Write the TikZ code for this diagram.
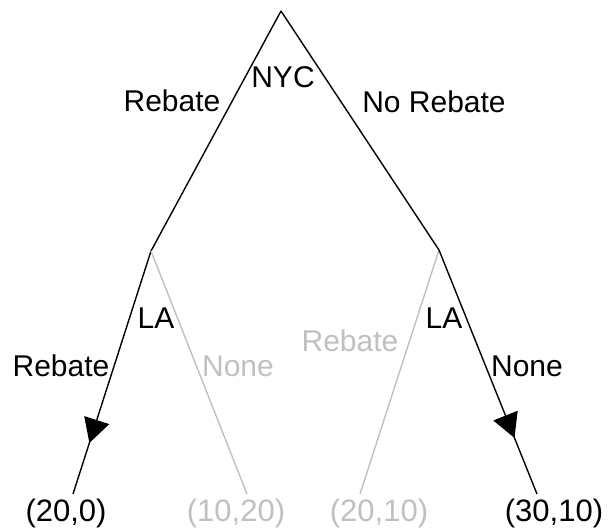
\documentclass[tikz,border=0pt]{standalone}
\usepackage{fontspec}
\setmainfont{Liberation Sans}
\usetikzlibrary{arrows.meta,decorations.markings}
\definecolor{lightgr}{RGB}{192,192,192}
\begin{document}
\begin{tikzpicture}[x=1pt,y=-1pt,
  branch/.style={line width=1.4pt},
  faded/.style={branch,draw=lightgr},
  lbl/.style={font=\fontsize{30}{36}\selectfont,inner sep=0pt},
  leaflbl/.style={font=\fontsize{31}{36}\selectfont,inner sep=0pt,anchor=base},
  fadedlbl/.style={lbl,text=lightgr},
  fadedleaf/.style={leaflbl,text=lightgr},
  arrowed/.style={branch,postaction={decorate},
    decoration={markings,mark=at position #1 with {\arrow{Triangle[length=24pt,width=26pt]}}}}
]
\path[use as bounding box] (0,0) rectangle (608,529);
\coordinate (root) at (281,11);
\coordinate (la1) at (151,251);
\coordinate (la2) at (439,250);
\coordinate (e1) at (73,494);
\coordinate (e2) at (247,494);
\coordinate (e3) at (360,494);
\coordinate (e4) at (537,494);
% branches
\draw[branch] (root) -- (la1);
\draw[branch] (root) -- (la2);
\draw[arrowed=0.79] (la1) -- (e1);
\draw[faded] (la1) -- (e2);
\draw[faded] (la2) -- (e3);
\draw[arrowed=0.77] (la2) -- (e4);
% labels
\node[lbl] (nyc) at (283,77) {NYC};
\node[lbl] (reb1) at (172,101) {Rebate};
\node[lbl] (noreb) at (434,102) {No Rebate};
\node[lbl] (la1l) at (156,318) {LA};
\node[lbl] (la2l) at (444,318) {LA};
\node[lbl] (reb2) at (61,366) {Rebate};
\node[fadedlbl] (none1) at (238,366) {None};
\node[fadedlbl] (reb3) at (350,341) {Rebate};
\node[lbl] (none2) at (527,366) {None};
\node[leaflbl] (p1) at (66,521) {(20,0)};
\node[fadedleaf] (p2) at (236,521) {(10,20)};
\node[fadedleaf] (p3) at (379,521) {(20,10)};
\node[leaflbl] (p4) at (554,521) {(30,10)};
\end{tikzpicture}
\end{document}
